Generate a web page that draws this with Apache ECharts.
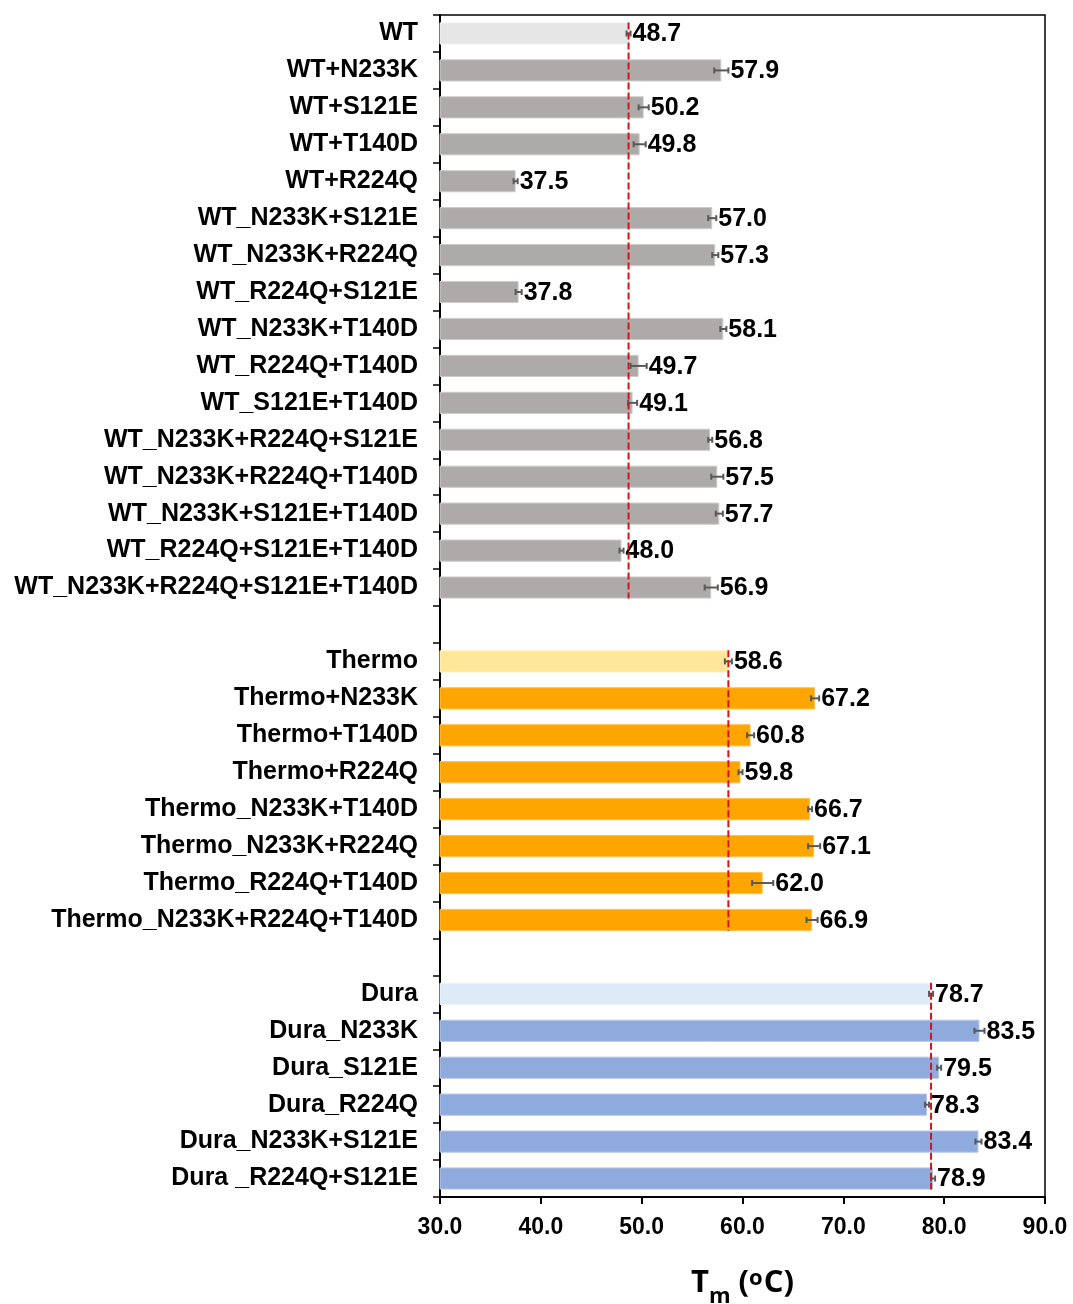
<!DOCTYPE html>
<html>
<head>
<meta charset="utf-8">
<script src="https://cdn.jsdelivr.net/npm/echarts@6/dist/echarts.min.js"></script>
<style>
  html, body { margin: 0; padding: 0; background: #fff; }
  #chart { width: 1073px; height: 1304px; }
</style>
</head>
<body>
<div id="chart"></div>
<script>
// Melting temperatures (Tm, °C) of the three backbones and their variants
const wtNames = ['WT', 'WT+N233K', 'WT+S121E', 'WT+T140D', 'WT+R224Q', 'WT_N233K+S121E',
  'WT_N233K+R224Q', 'WT_R224Q+S121E', 'WT_N233K+T140D', 'WT_R224Q+T140D', 'WT_S121E+T140D',
  'WT_N233K+R224Q+S121E', 'WT_N233K+R224Q+T140D', 'WT_N233K+S121E+T140D',
  'WT_R224Q+S121E+T140D', 'WT_N233K+R224Q+S121E+T140D'];
const wtValues = [48.7, 57.9, 50.2, 49.8, 37.5, 57.0, 57.3, 37.8, 58.1, 49.7, 49.1, 56.8, 57.5, 57.7, 48.0, 56.9];
const wtErrors = [0.2, 0.7, 0.5, 0.6, 0.2, 0.4, 0.3, 0.3, 0.3, 0.8, 0.45, 0.2, 0.6, 0.35, 0.2, 0.65];

const thermoNames = ['Thermo', 'Thermo+N233K', 'Thermo+T140D', 'Thermo+R224Q', 'Thermo_N233K+T140D',
  'Thermo_N233K+R224Q', 'Thermo_R224Q+T140D', 'Thermo_N233K+R224Q+T140D'];
const thermoValues = [58.6, 67.2, 60.8, 59.8, 66.7, 67.1, 62.0, 66.9];
const thermoErrors = [0.35, 0.4, 0.35, 0.2, 0.2, 0.6, 1.05, 0.55];

const duraNames = ['Dura', 'Dura_N233K', 'Dura_S121E', 'Dura_R224Q', 'Dura_N233K+S121E', 'Dura _R224Q+S121E'];
const duraValues = [78.7, 83.5, 79.5, 78.3, 83.4, 78.9];
const duraErrors = [0.2, 0.5, 0.2, 0.2, 0.3, 0.2];

const xTicks = { min: 30, max: 90, interval: 10 };

// Colours per group: first entry (parent) is the pale tint
const groupStyle = [
  { base: '#e6e6e6', baseEdge: '#f2f2f2', main: '#aeaaaa', edge: '#cfcccc' },
  { base: '#ffe699', baseEdge: '#fff0c0', main: '#ffa500', edge: '#ffc04d' },
  { base: '#deebf7', baseEdge: '#ebf3fb', main: '#8faadc', edge: '#b4c7e7' }
];

const groups = [
  { names: wtNames, values: wtValues, errors: wtErrors },
  { names: thermoNames, values: thermoValues, errors: thermoErrors },
  { names: duraNames, values: duraValues, errors: duraErrors }
];

// Build the category list with one empty slot between groups
const categories = [];
const barData = [];
const errData = [];
const refData = [];
groups.forEach((g, gi) => {
  if (gi > 0) {
    categories.push(' '.repeat(gi));
    barData.push('-');
  }
  const start = categories.length;
  const st = groupStyle[gi];
  g.names.forEach((n, i) => {
    const idx = categories.length;
    categories.push(n);
    barData.push({
      value: g.values[i],
      itemStyle: {
        color: i === 0 ? st.base : st.main,
        borderColor: i === 0 ? st.baseEdge : st.edge,
        borderWidth: 1
      }
    });
    errData.push([g.values[i], idx, g.errors[i]]);
  });
  refData.push([g.values[0], start, categories.length - 1]);
});

const chart = echarts.init(document.getElementById('chart'), null, { renderer: 'canvas' });

const labelFont = 'Liberation Sans, Arial, sans-serif';
const nameFont = 'Open Sans, sans-serif';

chart.setOption({
  animation: false,
  grid: {
    left: 440, right: 28, top: 15, bottom: 107,
    outerBoundsMode: 'none',
    show: true, borderColor: '#000', borderWidth: 1.5, backgroundColor: 'transparent'
  },
  xAxis: {
    type: 'value',
    min: xTicks.min, max: xTicks.max, interval: xTicks.interval,
    splitLine: { show: false },
    axisLine: { show: true, lineStyle: { color: '#000', width: 2 } },
    axisTick: { show: true, length: 7, lineStyle: { color: '#000', width: 2 } },
    axisLabel: {
      color: '#000', fontSize: 23, fontWeight: 'bold', fontFamily: labelFont, margin: 19,
      formatter: v => v.toFixed(1)
    },
    name: '{t|T}{m|m}{t| (}{o|o}{t|C)}',
    nameLocation: 'middle',
    nameGap: 66,
    nameTextStyle: {
      rich: {
        t: { fontSize: 31, fontWeight: 'bold', fontFamily: nameFont, color: '#000', verticalAlign: 'bottom', lineHeight: 36 },
        m: { fontSize: 22, fontWeight: 'bold', fontFamily: nameFont, color: '#000', verticalAlign: 'bottom', lineHeight: 36, padding: [0, 0, -9, 0] },
        o: { fontSize: 22, fontWeight: 'bold', fontFamily: nameFont, color: '#000', verticalAlign: 'bottom', lineHeight: 36, padding: [0, 1, 9, 0] }
      }
    }
  },
  yAxis: {
    type: 'category',
    inverse: true,
    data: categories,
    axisLine: { show: true, lineStyle: { color: '#000', width: 2 } },
    axisTick: { show: true, length: 7, lineStyle: { color: '#000', width: 1.5 } },
    axisLabel: {
      color: '#000', fontSize: 25, fontWeight: 'bold', fontFamily: labelFont, margin: 22, interval: 0
    },
    splitLine: { show: false }
  },
  series: [
    {
      type: 'bar',
      data: barData,
      barWidth: '60%',
      z: 2
    },
    {
      // error bars with the value printed just past them
      type: 'custom',
      z: 4,
      data: errData,
      encode: { x: 0, y: 1 },
      renderItem: (params, api) => {
        const v = api.value(0), idx = api.value(1), e = api.value(2);
        const lo = api.coord([v - e, idx]);
        const hi = api.coord([v + e, idx]);
        const cap = 3;
        const style = { stroke: '#595959', lineWidth: 2 };
        return {
          type: 'group',
          children: [
            { type: 'line', shape: { x1: lo[0], y1: lo[1], x2: hi[0], y2: hi[1] }, style },
            { type: 'line', shape: { x1: lo[0], y1: lo[1] - cap, x2: lo[0], y2: lo[1] + cap }, style },
            { type: 'line', shape: { x1: hi[0], y1: hi[1] - cap, x2: hi[0], y2: hi[1] + cap }, style },
            {
              type: 'text',
              style: {
                x: hi[0] + 2, y: hi[1] + 1,
                text: v.toFixed(1),
                fill: '#000',
                font: 'bold 25px ' + labelFont,
                align: 'left', verticalAlign: 'middle'
              }
            }
          ]
        };
      }
    },
    {
      // dashed reference at each parent's Tm, spanning its group
      type: 'custom',
      z: 5,
      data: refData,
      encode: { x: 0, y: [1, 2] },
      renderItem: (params, api) => {
        const v = api.value(0);
        const a = api.coord([v, api.value(1)]);
        const b = api.coord([v, api.value(2)]);
        const half = api.size([0, 1])[1] * 0.3;
        return {
          type: 'line',
          shape: { x1: a[0], y1: a[1] - half, x2: b[0], y2: b[1] + half },
          style: { stroke: '#d0161c', lineWidth: 2, lineDash: [7, 3] }
        };
      }
    }
  ]
});
</script>
</body>
</html>
